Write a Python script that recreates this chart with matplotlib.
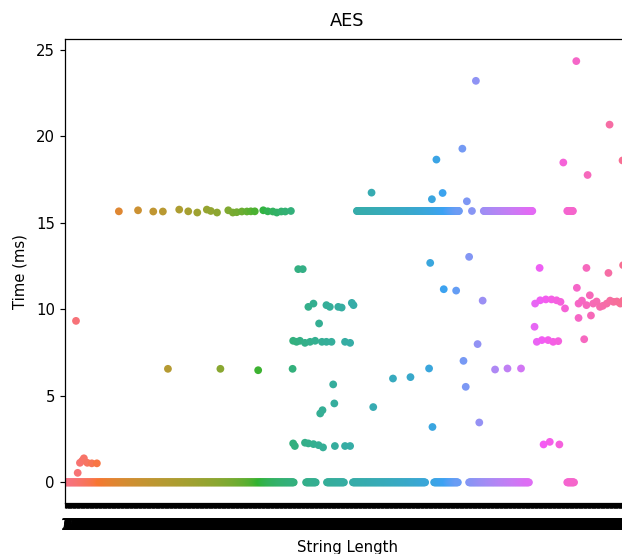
import matplotlib
matplotlib.use("Agg")
import matplotlib.pyplot as plt
import pandas as pd
import seaborn as sns

# one category per string length tested
lengths = list(range(1, 1001))

# stretches of string lengths whose timing came out as 0 ms (first, last)
zero_runs = [(1, 406), (428, 445), (465, 495), (511, 639), (655, 697), (717, 823), (891, 903)]
# stretches sitting on the ~15.7 ms timer tick (first, last)
tick_runs = [(518, 699), (722, 722), (743, 829), (891, 901)]
tick_ms = 15.68

# the scattered single measurements
pt_len = [
    20, 23, 27, 31, 34, 40, 48, 57,
    96, 130, 157, 174, 203, 219, 235, 252, 259, 270, 290, 298, 305, 314,
    323, 330, 337, 352, 360, 369, 376, 384, 391, 401,
    183, 276, 343, 404,
    414, 422, 432, 441, 464, 470, 485, 491, 509, 512, 451,
    405, 411, 417, 426, 435, 444, 456, 464, 473, 497, 506,
    476, 478, 453, 457,
    405, 408, 426, 432, 441, 450, 458, 479, 497, 506,
    544, 547, 582, 613, 648, 646, 652, 651, 659, 670, 672, 694,
    705, 713, 717, 707, 711, 729, 732, 735, 741, 763, 785, 809,
    833, 842, 834, 843, 853, 863, 872, 879, 887,
    837, 846, 857, 866, 875, 849, 860, 877,
    884, 907, 927, 966, 989, 925, 964, 990, 908, 931,
    911, 917, 925, 937, 943, 949, 954, 961, 967, 973, 979, 985, 990,
    911, 933, 921,
]
pt_ms = [
    9.33, 0.55, 1.13, 1.25, 1.39, 1.13, 1.10, 1.10,
    15.66, 15.72, 15.65, 15.65, 15.76, 15.66, 15.59, 15.76, 15.68, 15.59, 15.72, 15.59, 15.61, 15.65,
    15.65, 15.66, 15.66, 15.72, 15.66, 15.65, 15.59, 15.65, 15.65, 15.68,
    6.56, 6.56, 6.48, 6.56,
    12.32, 12.32, 10.14, 10.33, 10.24, 10.14, 10.14, 10.10, 10.37, 10.24, 9.18,
    8.18, 8.12, 8.18, 8.06, 8.12, 8.18, 8.12, 8.12, 8.12, 8.12, 8.06,
    5.66, 4.56, 3.98, 4.17,
    2.25, 2.10, 2.29, 2.25, 2.21, 2.15, 2.02, 2.10, 2.10, 2.10,
    16.74, 4.35, 6.00, 6.08, 12.68, 6.58, 3.20, 16.36, 18.65, 16.72, 11.16, 11.08,
    19.28, 16.24, 13.03, 7.02, 5.52, 23.20, 7.99, 3.46, 10.50, 6.52, 6.58, 6.58,
    8.99, 12.39, 10.33, 10.52, 10.57, 10.57, 10.52, 10.43, 10.05,
    8.12, 8.22, 8.22, 8.12, 8.16, 2.19, 2.34, 2.19,
    18.48, 24.34, 17.76, 20.67, 18.60, 12.39, 12.10, 12.55, 11.24, 10.81,
    10.33, 10.50, 10.24, 10.33, 10.45, 10.14, 10.20, 10.33, 10.50, 10.43, 10.45, 10.33, 10.50,
    9.50, 9.64, 8.27,
]

rows = []
for a, b in zero_runs:
    rows += [(n, 0.0) for n in range(a, b + 1)]
for a, b in tick_runs:
    rows += [(n, tick_ms) for n in range(a, b + 1)]
rows += list(zip(pt_len, pt_ms))

df = pd.DataFrame(rows, columns=["String Length", "Time (ms)"])
df["pos"] = df["String Length"].map({n: i for i, n in enumerate(lengths)})
df = df.sort_values("pos", kind="stable")

pal = sns.husl_palette(len(lengths))
colors = [pal[p] for p in df["pos"]]

fig = plt.figure(figsize=(6.22, 5.54), dpi=100)
# right side of the axes runs a little past the saved picture, as in the screenshot
ax = fig.add_axes([0.1045, 0.0912, 0.9068, 0.8385])
ax.scatter(df["pos"], df["Time (ms)"], c=colors, s=5.6 ** 2, linewidths=0)

ax.set_xlim(-0.5, len(lengths) - 0.5)
ax.set_ylim(-1.22, 25.62)
ax.set_xticks(range(len(lengths)))
ax.set_xticklabels(lengths)
ax.set_yticks([0, 5, 10, 15, 20, 25])
ax.tick_params(labelsize=10.7, length=3.7, width=0.85)
ax.tick_params(axis="x", pad=6.5)
for s in ax.spines.values():
    s.set_linewidth(0.9)

ax.set_title("AES", fontsize=12.8, pad=9)
ax.set_xlabel("String Length", fontsize=10.7, labelpad=5)
ax.set_ylabel("Time (ms)", fontsize=10.7, labelpad=6)

fig.savefig("out.png", dpi=100)
